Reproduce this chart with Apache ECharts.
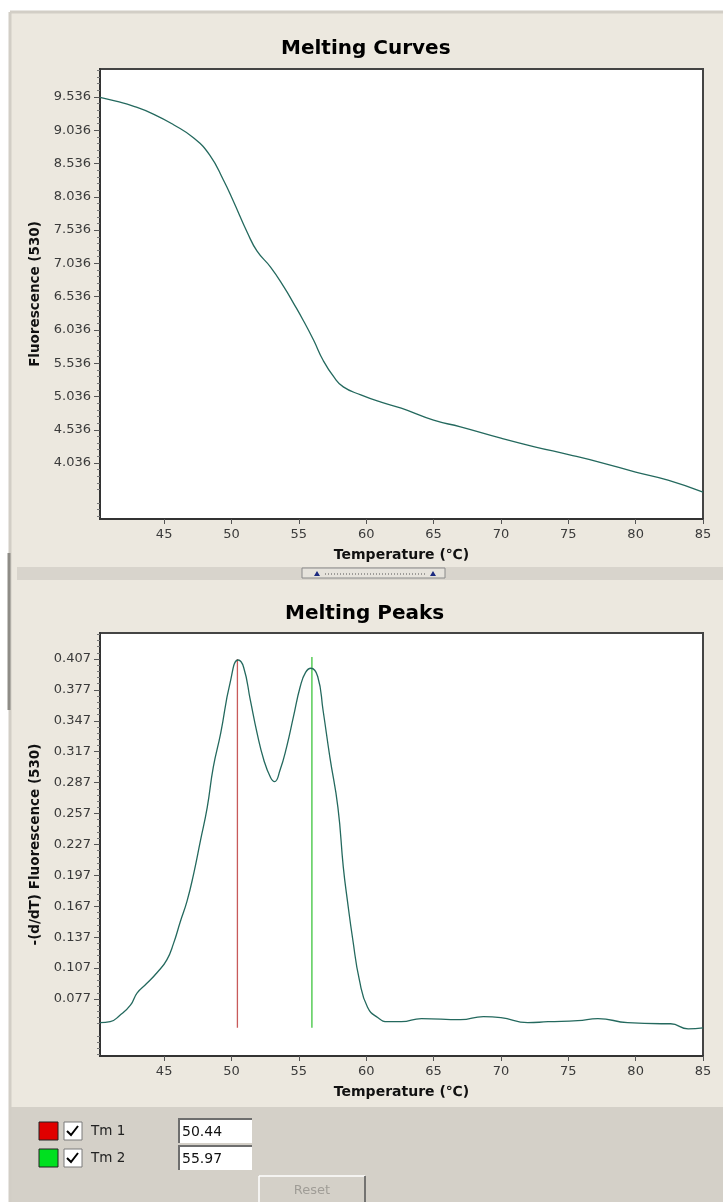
<!DOCTYPE html>
<html>
<head>
<meta charset="utf-8">
<title>Melting Curves / Melting Peaks</title>
<script src="https://cdn.jsdelivr.net/npm/echarts@6.0.0/dist/echarts.min.js"></script>
<style>
html, body { margin: 0; padding: 0; background: #fff; }
#main { width: 723px; height: 1202px; }
</style>
</head>
<body>
<div id="main"></div>
<script>
// temperature axis (shared by both plots)
var tempMin = 40.24;
var tempMax = 85;
var tempTicks = [45, 50, 55, 60, 65, 70, 75, 80, 85];

// melting curve: Fluorescence (530) vs temperature
var curveTemps = [40.24, 41.5, 42.7, 44.2, 45.7, 47.2, 48.4, 49.4, 50.1, 51.2, 51.9, 52.9, 53.9, 54.6,
    55.3, 56.1, 56.8, 57.6, 58.3, 59.6, 61.1, 62.6, 65.0, 67.0, 70.0, 72.5, 75.1, 77.5, 80.0, 82.4, 85.0];
var curveValues = [9.53, 9.47, 9.40, 9.28, 9.12, 8.92, 8.66, 8.29, 7.99, 7.49, 7.22, 6.98, 6.68, 6.44,
    6.19, 5.88, 5.58, 5.33, 5.18, 5.06, 4.95, 4.86, 4.68, 4.58, 4.41, 4.28, 4.16, 4.04, 3.90, 3.78, 3.60];
var curveTicks = [4.036, 4.536, 5.036, 5.536, 6.036, 6.536, 7.036, 7.536, 8.036, 8.536, 9.036, 9.536];
var curveMin = 3.195;
var curveMax = 9.957;

// melting peaks: -(d/dT) Fluorescence (530) vs temperature
var peakTemps = [40.24, 41.0, 41.7, 42.5, 43.0, 43.7, 44.5, 45.2, 45.7, 46.2, 46.7, 47.2, 47.7, 48.2, 48.65, 49.2, 49.9,
    50.5, 50.9, 51.4, 51.9, 52.4, 52.9, 53.2, 53.6, 54.1, 54.6, 55.1, 55.5, 55.9, 56.4, 56.8, 57.3, 57.9, 58.3, 58.6, 59.0,
    59.5, 60.1, 60.85, 61.6, 62.6, 64.1, 67.0, 68.7, 70.0, 72.0, 73.5, 75.7, 77.2, 79.4, 81.9, 82.6, 83.9, 85.0];
var peakValues = [0.054, 0.055, 0.061, 0.071, 0.083, 0.092, 0.103, 0.115, 0.131, 0.152, 0.172, 0.199, 0.231, 0.263, 0.302, 0.335, 0.384,
    0.406, 0.399, 0.367, 0.335, 0.309, 0.292, 0.288, 0.299, 0.322, 0.351, 0.380, 0.394, 0.398, 0.390, 0.357, 0.312, 0.263, 0.205, 0.173, 0.135,
    0.095, 0.069, 0.059, 0.055, 0.055, 0.058, 0.057, 0.060, 0.059, 0.054, 0.055, 0.056, 0.058, 0.054, 0.053, 0.053, 0.048, 0.049];
var peakTicks = [0.077, 0.107, 0.137, 0.167, 0.197, 0.227, 0.257, 0.287, 0.317, 0.347, 0.377, 0.407];
var peakMin = 0.0217;
var peakMax = 0.4322;

// Tm markers
var tmNames = ['Tm 1', 'Tm 2'];
var tmValues = [50.44, 55.97];
var tmLow = [0.049, 0.049];
var tmHigh = [0.407, 0.409];

var FONT = 'DejaVu Sans';
var BEIGE = '#ece8df';
var PANEL = '#d4d0c8';

// minor tick positions between the (offset) major ticks
function minorTicks(majors, step, min, max) {
    var out = [];
    var base = majors[0];
    var k0 = Math.ceil((min - base) / step - 1e-9);
    for (var k = k0; base + k * step <= max + 1e-9; k++) {
        if (k % 5 === 0) continue;
        out.push(+(base + k * step).toFixed(4));
    }
    return out;
}

function zip(xs, ys) {
    return xs.map(function (x, i) { return [x, ys[i]]; });
}

function tempAxis(grid) {
    return {
        type: 'value', gridIndex: grid, min: tempMin, max: tempMax,
        name: 'Temperature (\u2103)', nameLocation: 'middle', nameGap: 29,
        nameTextStyle: { fontFamily: FONT, fontWeight: 'bold', fontSize: 14, color: '#111' },
        axisLine: { onZero: false, lineStyle: { color: '#333', width: 2 } },
        axisTick: { customValues: tempTicks, length: 5, lineStyle: { color: '#555' } },
        axisLabel: { customValues: tempTicks, margin: 9, fontFamily: FONT, fontSize: 13, color: '#3a3a3a' },
        splitLine: { show: false }
    };
}

function valueAxis(grid, name, min, max, ticks, step) {
    return [{
        type: 'value', gridIndex: grid, min: min, max: max,
        name: name, nameLocation: 'middle', nameGap: 51,
        nameTextStyle: { fontFamily: FONT, fontWeight: 'bold', fontSize: 13.5, color: '#111' },
        axisLine: { show: true, lineStyle: { color: '#333', width: 2 } },
        axisTick: { customValues: ticks, length: 6, lineStyle: { color: '#555' } },
        axisLabel: {
            customValues: ticks, margin: 9, fontFamily: FONT, fontSize: 13, color: '#3a3a3a',
            formatter: function (v) { return v.toFixed(3); }
        },
        splitLine: { show: false }
    }, {
        type: 'value', gridIndex: grid, min: min, max: max, position: 'left',
        axisLine: { show: false },
        axisTick: { customValues: minorTicks(ticks, step, min, max), length: 3, lineStyle: { color: '#777' } },
        axisLabel: { show: false },
        splitLine: { show: false }
    }];
}

function rect(x, y, w, h, fill, stroke, z) {
    return { type: 'rect', z: z === undefined ? -5 : z, silent: true,
        shape: { x: x, y: y, width: w, height: h },
        style: { fill: fill, stroke: stroke || null, lineWidth: 1 } };
}
function line(x1, y1, x2, y2, color, w, z) {
    return { type: 'line', z: z === undefined ? -4 : z, silent: true,
        shape: { x1: x1, y1: y1, x2: x2, y2: y2 },
        style: { stroke: color, lineWidth: w || 1 } };
}
function label(x, y, text, size, color, align) {
    return { type: 'text', z: 5, silent: true, x: x, y: y,
        style: { text: text, fontFamily: FONT, fontSize: size, fill: color,
            align: align || 'left', verticalAlign: 'middle' } };
}

var graphics = [
    // window frame and panels
    rect(9, 12, 714, 1190, BEIGE, null, -6),
    line(10, 12, 723, 12, '#d2cec6', 3),
    line(10, 12, 10, 1202, '#d2cec6', 3),
    line(9, 553, 9, 710, '#8e8c86', 3),
    rect(17, 567, 706, 13, '#d8d4cc'),
    rect(302, 568, 143, 10, '#e6e3dc', '#8a8a8a', -3),
    { type: 'polygon', z: -2, silent: true, shape: { points: [[314, 576], [320, 576], [317, 571]] }, style: { fill: '#1c2a80' } },
    { type: 'polygon', z: -2, silent: true, shape: { points: [[430, 576], [436, 576], [433, 571]] }, style: { fill: '#1c2a80' } },
    { type: 'line', z: -2, silent: true, shape: { x1: 325, y1: 574, x2: 425, y2: 574 },
        style: { stroke: '#555', lineWidth: 1, lineDash: [1, 2] } },
    rect(11, 1107, 712, 95, PANEL)
];

// Tm legend rows
var rowY = [1131, 1158];
var swatch = ['#e00000', '#00e020'];
rowY.forEach(function (y, i) {
    graphics.push(rect(39, y - 9, 19, 18, swatch[i], '#222', 1));
    graphics.push(rect(64, y - 9, 18, 18, '#fff', '#7a7a7a', 1));
    graphics.push({ type: 'polyline', z: 2, silent: true,
        shape: { points: [[67, y], [71, y + 4], [78, y - 5]] },
        style: { stroke: '#000', lineWidth: 2, fill: null } });
    graphics.push(label(91, y, tmNames[i], 13.5, '#222'));
    graphics.push(rect(178, y - 12, 74, 24, '#fff', null, 1));
    graphics.push(line(178, y - 12, 252, y - 12, '#6e6e6e', 2, 2));
    graphics.push(line(179, y - 12, 179, y + 12, '#6e6e6e', 2, 2));
    graphics.push(label(182, y + 1, tmValues[i].toFixed(2), 14, '#111'));
});
// Reset button
graphics.push(rect(259, 1176, 106, 30, '#d4d0c8', null, 1));
graphics.push(line(259, 1176, 365, 1176, '#ffffff', 1.5, 2));
graphics.push(line(259, 1176, 259, 1202, '#ffffff', 1.5, 2));
graphics.push(line(365, 1176, 365, 1202, '#555', 1.5, 2));
graphics.push(label(312, 1191, 'Reset', 13, '#a09d97', 'center'));

var chart = echarts.init(document.getElementById('main'), null, { renderer: 'canvas' });

var option = {
    backgroundColor: '#fff',
    animation: false,
    title: [
        { text: 'Melting Curves', left: 276, top: 34,
          textStyle: { fontFamily: FONT, fontWeight: 'bold', fontSize: 20, color: '#000' } },
        { text: 'Melting Peaks', left: 280, top: 599,
          textStyle: { fontFamily: FONT, fontWeight: 'bold', fontSize: 20, color: '#000' } }
    ],
    grid: [
        { left: 100, top: 69, width: 603, height: 450, show: true, backgroundColor: '#fff', borderColor: '#444', borderWidth: 2 },
        { left: 100, top: 633, width: 603, height: 423, show: true, backgroundColor: '#fff', borderColor: '#444', borderWidth: 2 }
    ],
    xAxis: [tempAxis(0), tempAxis(1)],
    yAxis: valueAxis(0, 'Fluorescence (530)', curveMin, curveMax, curveTicks, 0.1)
        .concat(valueAxis(1, '-(d/dT) Fluorescence (530)', peakMin, peakMax, peakTicks, 0.006)),
    graphic: graphics,
    series: [
        {
            type: 'line', xAxisIndex: 0, yAxisIndex: 0,
            data: zip(curveTemps, curveValues),
            showSymbol: false, smooth: 0.5,
            lineStyle: { color: '#24695e', width: 1.3 }
        },
        {
            type: 'line', xAxisIndex: 1, yAxisIndex: 2,
            data: [[tmValues[0], tmLow[0]], [tmValues[0], tmHigh[0]]],
            showSymbol: false, lineStyle: { color: '#c85a5a', width: 1.3 }
        },
        {
            type: 'line', xAxisIndex: 1, yAxisIndex: 2,
            data: [[tmValues[1], tmLow[1]], [tmValues[1], tmHigh[1]]],
            showSymbol: false, lineStyle: { color: '#3cc43c', width: 1.3 }
        },
        {
            type: 'line', xAxisIndex: 1, yAxisIndex: 2,
            data: zip(peakTemps, peakValues),
            showSymbol: false, smooth: 0.5,
            lineStyle: { color: '#24695e', width: 1.3 }
        }
    ]
};

chart.setOption(option);
</script>
</body>
</html>
